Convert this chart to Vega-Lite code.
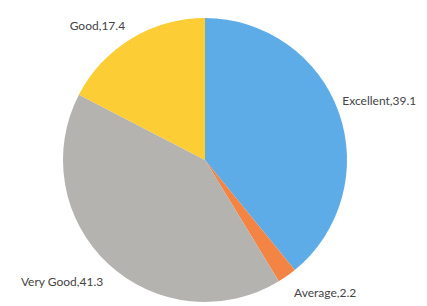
{
  "$schema": "https://vega.github.io/schema/vega-lite/v6.json",
  "autosize": {"type": "none"},
  "width": 410,
  "height": 292,
  "padding": {"left": 0, "top": 14, "right": 17, "bottom": 0},
  "background": "white",
  "view": {"stroke": null},
  "data": {"values": [
    {"cat": "Excellent", "value": 39.1, "idx": 1, "label": "Excellent,39.1"},
    {"cat": "Average", "value": 2.2, "idx": 2, "label": "Average,2.2"},
    {"cat": "Very Good", "value": 41.3, "idx": 3, "label": "Very Good,41.3"},
    {"cat": "Good", "value": 17.4, "idx": 4, "label": "Good,17.4"}
  ]},
  "encoding": {
    "theta": {"field": "value", "type": "quantitative", "stack": true},
    "order": {"field": "idx", "type": "quantitative"}
  },
  "layer": [
    {
      "mark": {"type": "arc", "radius": 142},
      "encoding": {
        "color": {"field": "cat", "type": "nominal", "legend": null,
          "scale": {"domain": ["Excellent", "Average", "Very Good", "Good"],
                    "range": ["#5DACE8", "#F48443", "#B4B3AF", "#FCCD35"]}}
      }
    },
    {
      "mark": {"type": "text", "radius": 185, "dy": 3, "font": "Lato", "fontSize": 12, "fill": "#444444"},
      "encoding": {"text": {"condition": {"test": "datum.cat === 'Excellent'", "field": "label"}, "value": ""}}
    },
    {
      "mark": {"type": "text", "radius": 163, "dx": 26, "font": "Lato", "fontSize": 12, "fill": "#444444"},
      "encoding": {"text": {"condition": {"test": "datum.cat === 'Average'", "field": "label"}, "value": ""}}
    },
    {
      "mark": {"type": "text", "radius": 167, "dx": -29, "font": "Lato", "fontSize": 12, "fill": "#444444"},
      "encoding": {"text": {"condition": {"test": "datum.cat === 'Very Good'", "field": "label"}, "value": ""}}
    },
    {
      "mark": {"type": "text", "radius": 157, "dx": -26, "font": "Lato", "fontSize": 12, "fill": "#444444"},
      "encoding": {"text": {"condition": {"test": "datum.cat === 'Good'", "field": "label"}, "value": ""}}
    }
  ]
}
